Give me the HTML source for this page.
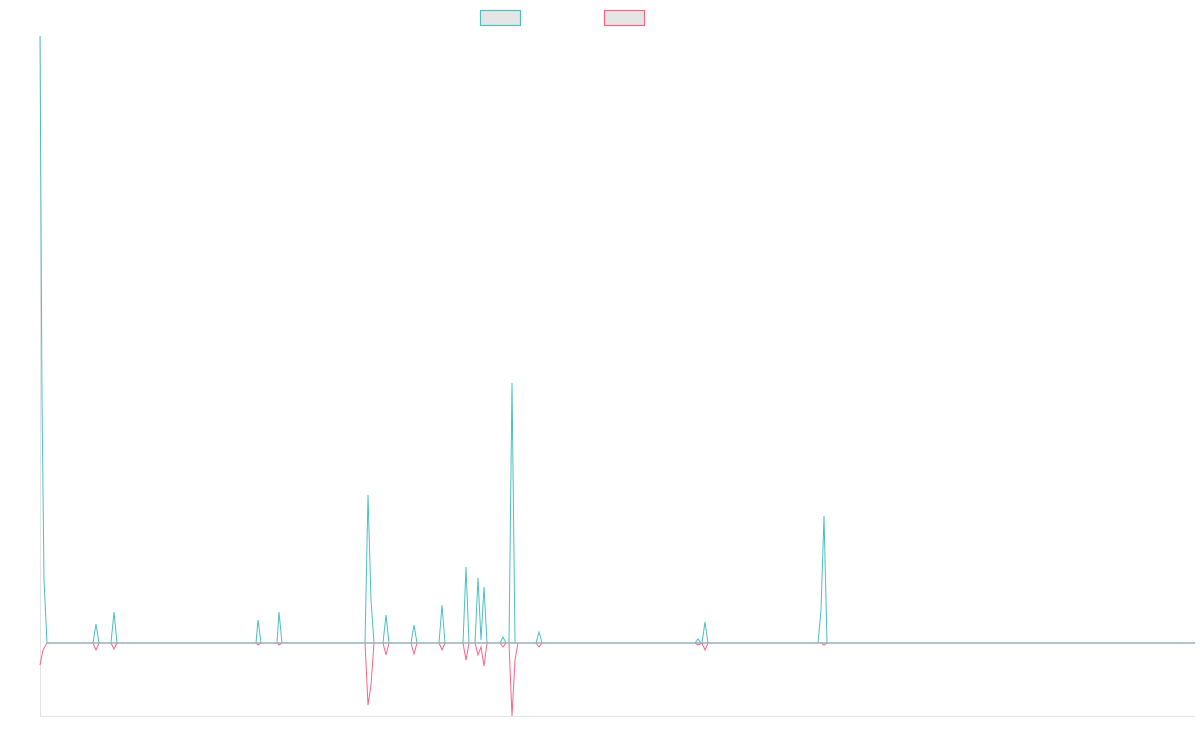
<!DOCTYPE html>
<html><head><meta charset="utf-8"><style>html,body{margin:0;padding:0;background:#fff;width:1200px;height:750px;overflow:hidden}</style></head>
<body>
<svg width="1200" height="750" xmlns="http://www.w3.org/2000/svg">
<rect x="480.5" y="10.5" width="40" height="15" fill="#e5e5e5" stroke="#4bc0c0" stroke-width="1.2"/>
<rect x="604.5" y="10.5" width="40" height="15" fill="#e5e5e5" stroke="#ff6384" stroke-width="1.2"/>
<line x1="40.5" y1="36" x2="40.5" y2="716.5" stroke="#e3e3e3"/>
<line x1="40" y1="716.5" x2="1195" y2="716.5" stroke="#e3e3e3"/>
<polyline fill="none" stroke="#ff6384" stroke-width="1" points="40,665 43,650 47,643 93,643 96,650 99,643 111,643 114,649 117,643 256,643 258,645 261,643 277,643 279,645 282,643 365,643 368,705 371,685 374,643 383,643 386,655 389,643 411,643 414,654 417,643 439,643 442,650 445,643 463,643 466,660 469,643 475,643 478,655 481,647 484,666 487,643 500,643 503,647 506,643 509,643 512,716 515,660 518,643 536,643 539,647 542,643 695,643 698,645 702,643 705,650 708,643 821,643 824,645 827,643 1195,643"/>
<polyline fill="none" stroke="#4bc0c0" stroke-width="1" points="40,36 42,400 44,580 47,643 93,643 96,624 99,643 111,643 114,612 117,643 256,643 258,620 261,643 277,643 279,612 282,643 365,643 368,495 371,600 374,643 383,643 386,615 389,643 411,643 414,625 417,643 439,643 442,605 445,643 463,643 466,567 469,643 475,643 478,578 481,640 484,587 487,643 500,643 503,637 506,643 509,643 512,383 515,643 536,643 539,632 542,643 695,643 698,639 701,643 702,643 705,622 708,643 818,643 821,610 824,516 827,643 1195,643"/>
<line x1="47" y1="643" x2="1195" y2="643" stroke="#9ab0b6" stroke-width="1.5"/>
</svg>
</body></html>
